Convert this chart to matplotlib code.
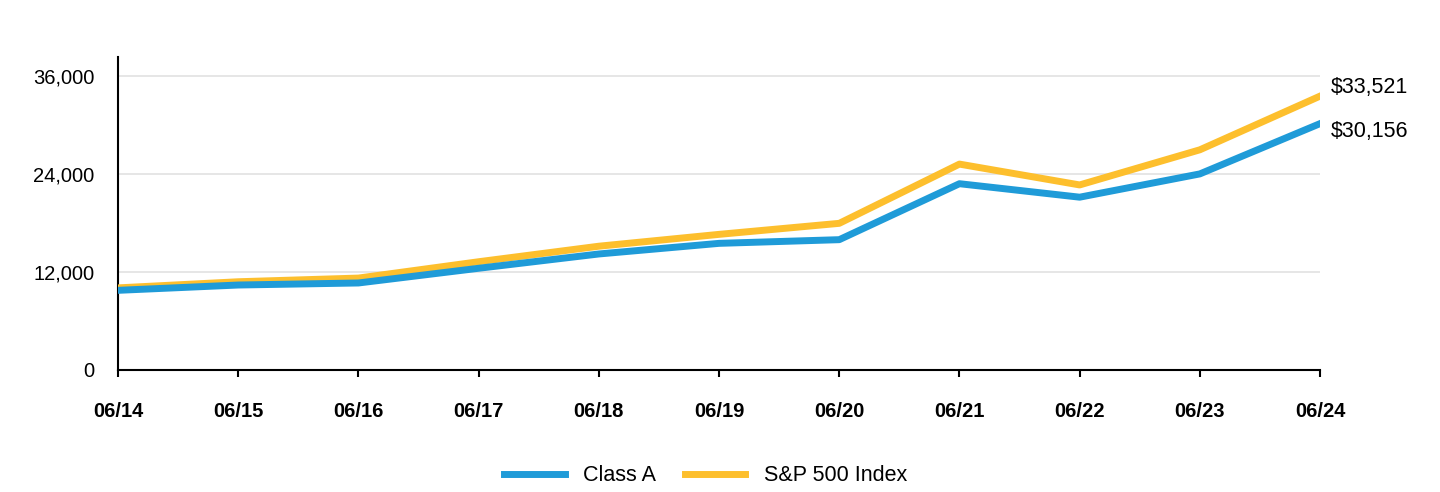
import matplotlib.pyplot as plt
from matplotlib.ticker import FuncFormatter

plt.rcParams['font.family'] = ['Liberation Sans', 'DejaVu Sans']

# growth of $10,000
dates = ["06/14", "06/15", "06/16", "06/17", "06/18", "06/19",
         "06/20", "06/21", "06/22", "06/23", "06/24"]
class_a = [9750, 10400, 10650, 12450, 14200, 15500,
           15950, 22800, 21150, 24000, 30156]
sp500 = [10050, 10800, 11250, 13250, 15150, 16600,
         17950, 25200, 22650, 26950, 33521]

blue = "#1f9bd8"
gold = "#fdbf2d"

fig = plt.figure(figsize=(14.4, 4.92), dpi=100)
ax = fig.add_axes([0.082, 0.248, 0.8347, 0.636])

x = list(range(len(dates)))
ax.plot(x, sp500, color=gold, lw=5, label="S&P 500 Index", zorder=3)
ax.plot(x, class_a, color=blue, lw=5, label="Class A", zorder=4)

ax.set_xlim(0, len(dates) - 1)
ax.set_ylim(0, 38300)
ax.set_yticks([0, 12000, 24000, 36000])
ax.yaxis.set_major_formatter(FuncFormatter(lambda v, p: f"{int(v):,}"))
ax.set_xticks(x)
ax.set_xticklabels(dates, fontweight="bold")

for v in [12000, 24000, 36000]:
    ax.axhline(v, color="#e2e2e2", lw=1.2, zorder=1)

for s in ["top", "right"]:
    ax.spines[s].set_visible(False)
ax.spines["left"].set_linewidth(1.5)
ax.spines["bottom"].set_linewidth(1.5)

ax.tick_params(axis="x", length=5, width=1.5, pad=18, labelsize=14.5)
ax.tick_params(axis="y", length=0, pad=17, labelsize=14.5)
ax.tick_params(axis="both", colors="black")

# end-point value labels
ax.annotate(f"${sp500[-1]:,}", (x[-1], sp500[-1]), xytext=(8, 6),
            textcoords="offset points", fontsize=15.5, va="center",
            annotation_clip=False)
ax.annotate(f"${class_a[-1]:,}", (x[-1], class_a[-1]), xytext=(8, -6),
            textcoords="offset points", fontsize=15.5, va="center",
            annotation_clip=False)

handles, labels = ax.get_legend_handles_labels()
fig.legend(handles[::-1], labels[::-1], loc="center", bbox_to_anchor=(0.49, 0.033),
           ncol=2, frameon=False, fontsize=15.5, handlelength=2.8,
           columnspacing=1.35, handletextpad=0.85)

fig.savefig("out.png", dpi=100)
